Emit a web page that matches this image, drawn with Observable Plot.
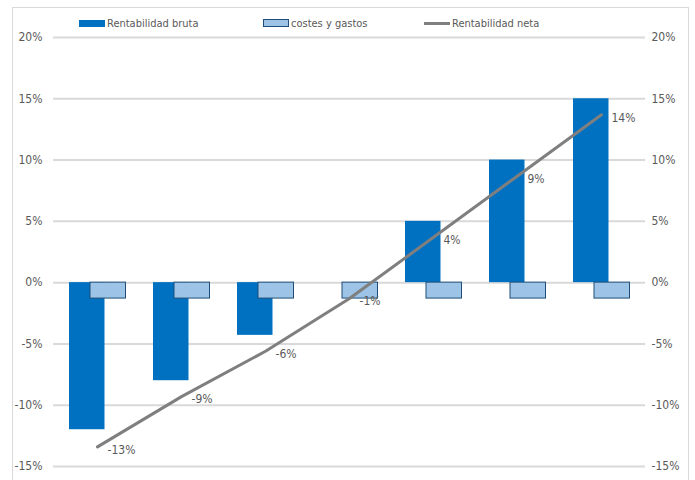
<!DOCTYPE html>
<html>
<head>
<meta charset="utf-8">
<script src="https://cdn.jsdelivr.net/npm/d3@7"></script>
<script src="https://cdn.jsdelivr.net/npm/@observablehq/plot@0.6"></script>
<style>
  html, body { margin: 0; padding: 0; background: #fff; }
  body { font-family: "Liberation Sans Narrow", "DejaVu Sans Condensed", "Roboto", sans-serif; }
  #wrap { position: relative; width: 695px; height: 480px; overflow: hidden; }
  #frame { position: absolute; left: 12px; top: 7px; width: 677px; height: 500px; border: 1px solid #d9d9d9; box-sizing: border-box; }
  #chart { position: absolute; left: 0; top: 0; }
  .leg { position: absolute; top: 15px; display: flex; align-items: center; font-size: 11px; color: #595959; white-space: nowrap; height: 16px; }
  .sw { display: inline-block; width: 26px; margin-right: 2px; box-sizing: border-box; }
</style>
</head>
<body>
<div id="wrap">
  <div id="frame"></div>
  <div id="chart"></div>
  <div class="leg" style="left:79px"><span class="sw" style="height:7px;background:#0070c0"></span>Rentabilidad bruta</div>
  <div class="leg" style="left:263px"><span class="sw" style="height:8px;background:#9dc3e6;border:1px solid #1f4e79"></span>costes y gastos</div>
  <div class="leg" style="left:424px"><span class="sw" style="height:3px;background:#7f7f7f"></span>Rentabilidad neta</div>
</div>
<script>
const categories = ["1", "2", "3", "4", "5", "6", "7"];
const rentabilidadBruta = [-12, -8, -4.3, 0, 5, 10, 15];
const costesGastos = [-1.3, -1.3, -1.3, -1.3, -1.3, -1.3, -1.3];
const rentabilidadNeta = [-13.4, -9.3, -5.6, -1.3, 3.7, 8.7, 13.7];
const yTicks = [-15, -10, -5, 0, 5, 10, 15, 20];

const data = categories.map((c, i) => ({
  cat: c,
  bruta: rentabilidadBruta[i],
  costes: costesGastos[i],
  neta: rentabilidadNeta[i]
}));

const fmt = d => `${d}%`;

const chart = Plot.plot({
  width: 695,
  height: 480,
  marginTop: 37,
  marginBottom: 14,
  marginLeft: 53,
  marginRight: 50,
  style: { fontFamily: '"Liberation Sans Narrow", "DejaVu Sans Condensed", Roboto, sans-serif', fontSize: "12px", color: "#595959", background: "transparent" },
  x: { type: "band", domain: categories, padding: 0, axis: null },
  y: { domain: [-15, 20], ticks: yTicks, axis: null },
  marks: [
    Plot.gridY(yTicks, { stroke: "#d9d9d9", strokeOpacity: 1, strokeWidth: 2 }),
    Plot.axisY(yTicks, { anchor: "left", tickSize: 0, tickPadding: 11, tickFormat: fmt, fill: "#595959" }),
    Plot.axisY(yTicks, { anchor: "right", tickSize: 0, tickPadding: 6, tickFormat: fmt, fill: "#595959" }),
    Plot.barY(data, { x: "cat", y: "bruta", fill: "#0070c0", insetLeft: 14, insetRight: 34.5 }),
    Plot.barY(data, { x: "cat", y: "costes", fill: "#9dc3e6", stroke: "#1f4e79", strokeWidth: 1, insetLeft: 35, insetRight: 13.5 }),
    Plot.lineY(data, { x: "cat", y: "neta", stroke: "#7f7f7f", strokeWidth: 3 }),
    Plot.text(data, { x: "cat", y: "neta", text: d => `${Math.round(d.neta)}%`, dx: 10, dy: 3, textAnchor: "start", fill: "#595959" })
  ]
});
document.getElementById("chart").append(chart);
</script>
</body>
</html>
